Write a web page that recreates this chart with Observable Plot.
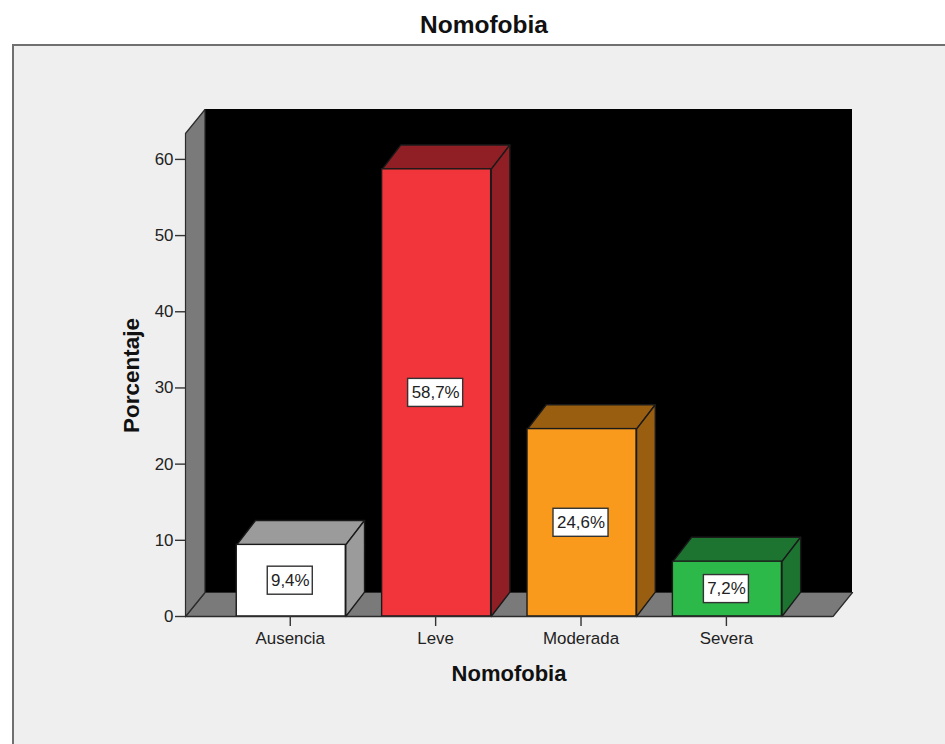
<!DOCTYPE html>
<html>
<head>
<meta charset="utf-8">
<script src="https://cdn.jsdelivr.net/npm/d3@7"></script>
<script src="https://cdn.jsdelivr.net/npm/@observablehq/plot@0.6"></script>
<style>
  html, body { margin: 0; padding: 0; background: #fff; overflow: hidden; }
  body { width: 945px; height: 744px; font-family: "Liberation Sans", Arial, sans-serif; }
  #title { height: 44px; line-height: 49px; font-size: 24.5px; font-weight: bold; color: #111; padding-left: 420px; box-sizing: border-box; }
  #panel { margin-left: 12px; width: 933px; height: 700px; background: #efefef; overflow: hidden;
           border-top: 2px solid #707070; border-left: 2px solid #707070; box-sizing: border-box; }
  #panel svg { display: block; }
</style>
</head>
<body>
<div id="title">Nomofobia</div>
<div id="panel"></div>
<script>
// Nomofobia levels and their share of respondents
const categories = ["Ausencia", "Leve", "Moderada", "Severa"];
const percentages = [9.4, 58.7, 24.6, 7.2];
const valueLabels = ["9,4%", "58,7%", "24,6%", "7,2%"];
const frontColors = ["#ffffff", "#f2343b", "#fa9a1c", "#2db84a"];
const shadeColors = ["#9b9b9b", "#8f1f24", "#9a5e10", "#1d7430"];
const yTicks = [0, 10, 20, 30, 40, 50, 60];

// Extent of the box in axis units: x counts categories, y counts percent
const xLeft = -0.7275, xRight = 3.7265, yFrontTop = 63.4;
const wallDx = 0.134, wallDy = 3.15;
const barHalf = 0.375, barDx = 0.129, barDy = 3.2;
const ink = "#2b2b2b";

const poly = (id, fill, pts) => pts.concat([pts[0]]).map(([x, y]) => ({id, fill, x, y}));

const room = [
  ...poly("floor", "#7a7a7a", [[xLeft, 0], [xRight, 0], [xRight + wallDx, wallDy], [xLeft + wallDx, wallDy]]),
  ...poly("wall", "#7a7a7a", [[xLeft, 0], [xLeft + wallDx, wallDy], [xLeft + wallDx, yFrontTop + wallDy], [xLeft, yFrontTop]])
];

const bars = categories.map((name, i) => ({
  name, i, value: percentages[i], label: valueLabels[i], front: frontColors[i], shade: shadeColors[i]
}));

// Top and side of every bar, drawn as closed filled outlines
const barFaces = bars.flatMap(b => {
  const l = b.i - barHalf, r = b.i + barHalf, v = b.value;
  return [
    ...poly(`top-${b.i}`, b.shade, [[l, v], [r, v], [r + barDx, v + barDy], [l + barDx, v + barDy]]),
    ...poly(`side-${b.i}`, b.shade, [[r, 0], [r + barDx, barDy], [r + barDx, v + barDy], [r, v]])
  ];
});

// Label boxes grow with the length of their text
const boxHalfWidth = s => (s.length * 10 + 5) / 145.3 / 2;
const boxHalfHeight = 1.84;

const labelFont = 16.9;

const chart = Plot.plot({
  width: 931,
  height: 698,
  marginLeft: 171,
  marginRight: 93,
  marginTop: 63,
  marginBottom: 128,
  style: {background: "none", fontFamily: '"Liberation Sans", Arial, sans-serif', color: "#222"},
  x: {domain: [xLeft, xRight + wallDx]},
  y: {domain: [0, yFrontTop + wallDy]},
  color: {type: "identity"},
  marks: [
    Plot.rect([0], {x1: xLeft + wallDx, x2: xRight + wallDx, y1: wallDy, y2: yFrontTop + wallDy, fill: "#000"}),
    Plot.line(room, {x: "x", y: "y", z: "id", fill: "fill", stroke: ink, strokeWidth: 1.2, curve: "linear"}),
    Plot.line(barFaces, {x: "x", y: "y", z: "id", fill: "fill", stroke: "#1a1a1a", strokeWidth: 1.4, curve: "linear"}),
    Plot.rect(bars, {
      x1: d => d.i - barHalf, x2: d => d.i + barHalf, y1: 0, y2: "value",
      fill: "front", stroke: "#1a1a1a", strokeWidth: 1.4
    }),
    Plot.ruleY([0], {x1: xLeft, x2: xRight, stroke: ink, strokeWidth: 1.6}),
    Plot.rect(bars, {
      x1: d => d.i - boxHalfWidth(d.label), x2: d => d.i + boxHalfWidth(d.label),
      y1: d => d.value / 2 - boxHalfHeight, y2: d => d.value / 2 + boxHalfHeight,
      dx: -1, fill: "#fff", stroke: "#333", strokeWidth: 1.4
    }),
    Plot.text(bars, {
      x: "i", y: d => d.value / 2, text: "label", dx: -1,
      fontSize: labelFont, fill: "#222", textAnchor: "middle", lineAnchor: "middle"
    }),
    Plot.axisY({
      ticks: yTicks, tickSize: 10, tickPadding: 2, fontSize: labelFont, label: null,
      stroke: "#333", strokeWidth: 1.4, color: "#222"
    }),
    Plot.axisX({
      ticks: [0, 1, 2, 3], tickFormat: i => categories[i], tickSize: 10, tickPadding: 5, dx: -1,
      fontSize: labelFont, label: null, stroke: "#333", strokeWidth: 1.4, color: "#222"
    }),
    Plot.text(["Porcentaje"], {
      frameAnchor: "left", dx: -54, dy: 12.5, rotate: -90, text: d => d,
      fontSize: 22.5, fontWeight: "bold", fill: "#111", textAnchor: "middle", lineAnchor: "middle"
    }),
    Plot.text(["Nomofobia"], {
      frameAnchor: "bottom", dx: -10, dy: 57, text: d => d,
      fontSize: 22, fontWeight: "bold", fill: "#111", textAnchor: "middle", lineAnchor: "middle"
    })
  ]
});

document.getElementById("panel").appendChild(chart);
</script>
</body>
</html>
